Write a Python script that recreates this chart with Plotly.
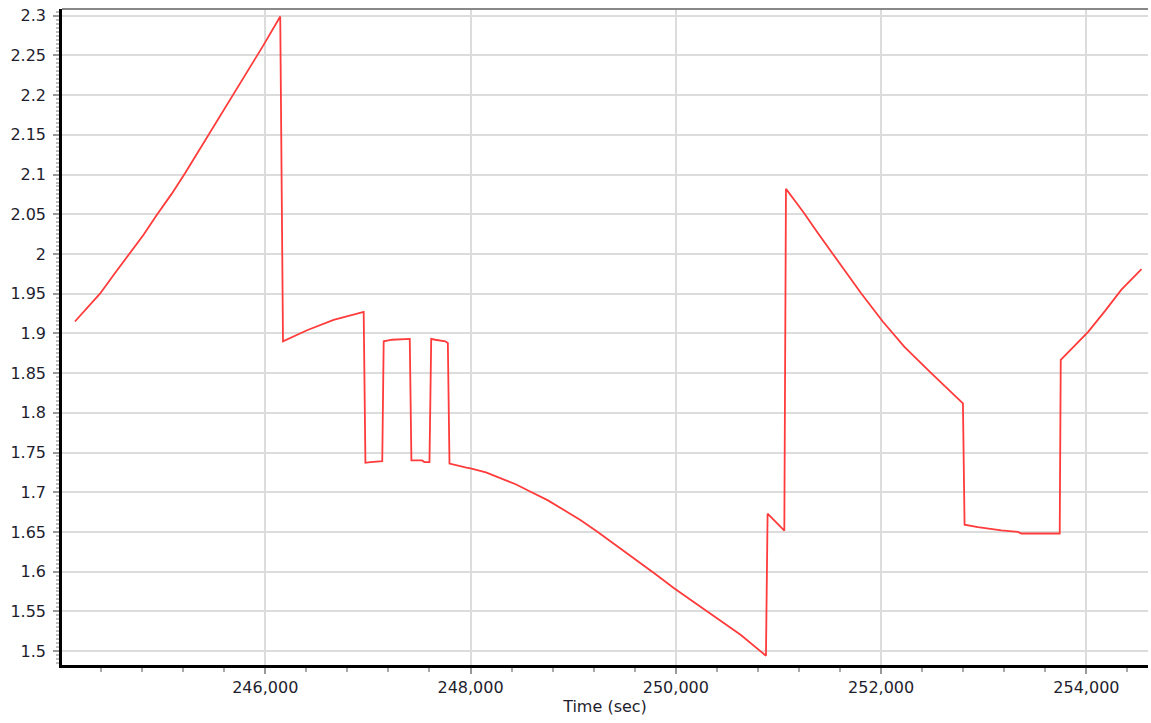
import plotly.graph_objects as go

# Time (sec) and value
time_sec = [244146, 244260, 244390, 244537, 244683, 244813, 244943, 245090, 245220,
            245334, 245447, 245561, 245691, 245837, 245983, 246146,
            246173, 246407, 246666, 246959,
            246976, 247025, 247140,
            247154, 247235, 247408,
            247424, 247528, 247550, 247600,
            247617, 247656, 247754, 247779,
            247795, 247960, 248000, 248150, 248293, 248440, 248585, 248750, 248910,
            249070, 249236, 249410, 249593, 249790, 249983, 250150, 250309, 250470,
            250634, 250878,
            250894, 251057,
            251073, 251160, 251252, 251380, 251512, 251660, 251805, 252016, 252227,
            252488, 252797,
            252813, 252943, 253171, 253333, 253366, 253740,
            253750, 254017, 254180, 254341, 254537]
values = [1.915, 1.932, 1.950, 1.976, 2.001, 2.024, 2.049, 2.076, 2.102,
          2.126, 2.150, 2.175, 2.202, 2.232, 2.263, 2.299,
          1.890, 1.904, 1.917, 1.927,
          1.737, 1.738, 1.739,
          1.890, 1.892, 1.893,
          1.740, 1.740, 1.738, 1.738,
          1.893, 1.892, 1.890, 1.888,
          1.736, 1.731, 1.730, 1.725, 1.7175, 1.710, 1.7006, 1.690, 1.6776,
          1.665, 1.6503, 1.634, 1.6167, 1.598, 1.579, 1.564, 1.5495, 1.535,
          1.5202, 1.494,
          1.673, 1.6515,
          2.082, 2.067, 2.051, 2.027, 2.003, 1.976, 1.9505, 1.915, 1.883,
          1.850, 1.812,
          1.659, 1.656, 1.652, 1.650, 1.648, 1.648,
          1.8665, 1.902, 1.928, 1.955, 1.981]

x_tick_vals = [246000, 248000, 250000, 252000, 254000]
x_tick_text = ["246,000", "248,000", "250,000", "252,000", "254,000"]
y_tick_vals = [1.5, 1.55, 1.6, 1.65, 1.7, 1.75, 1.8, 1.85, 1.9, 1.95, 2.0,
               2.05, 2.1, 2.15, 2.2, 2.25, 2.3]
y_tick_text = ["1.5", "1.55", "1.6", "1.65", "1.7", "1.75", "1.8", "1.85", "1.9",
               "1.95", "2", "2.05", "2.1", "2.15", "2.2", "2.25", "2.3"]
x_title = "Time (sec)"

fig = go.Figure()
fig.add_trace(go.Scatter(x=time_sec, y=values, mode="lines",
                         line=dict(color="#ff3b3b", width=1.8),
                         hoverinfo="x+y"))

fig.update_layout(
    width=1151, height=723,
    margin=dict(l=62, r=3, t=9, b=58),
    plot_bgcolor="white", paper_bgcolor="white",
    showlegend=False,
    font=dict(family="DejaVu Sans", size=16, color="#1e1e2e"),
)
fig.update_xaxes(
    range=[244020, 254600], automargin=False,
    tickmode="array", tickvals=x_tick_vals, ticktext=x_tick_text,
    showgrid=True, gridcolor="#dcdcdc", gridwidth=2,
    showline=True, linecolor="black", linewidth=2.5,
    ticks="outside", ticklen=6, tickcolor="#999", tickwidth=1.5,
    minor=dict(tickmode="linear", tick0=244000, dtick=400, ticks="outside",
               ticklen=4, tickcolor="#aaa", showgrid=False),
    zeroline=False,
    title=dict(text=x_title, font=dict(size=16), standoff=2),
)
fig.update_yaxes(
    range=[1.4824, 2.3085], automargin=False,
    tickmode="array", tickvals=y_tick_vals, ticktext=y_tick_text,
    showgrid=True, gridcolor="#dcdcdc", gridwidth=2,
    showline=True, linecolor="black", linewidth=2.5,
    ticks="outside", ticklen=6, tickcolor="#999", tickwidth=1.5,
    ticklabelstandoff=4,
    minor=dict(tickmode="linear", tick0=1.5, dtick=0.005, ticks="outside",
               ticklen=3, tickcolor="#bbb", showgrid=False),
    zeroline=False,
)
fig.add_shape(type="line", xref="paper", yref="paper", x0=0, x1=1, y0=1, y1=1,
              line=dict(color="#888", width=2))

fig.write_html("out.html",
               config={"displayModeBar": False},
               post_script="document.body.style.margin='0';document.body.style.overflow='hidden';")
